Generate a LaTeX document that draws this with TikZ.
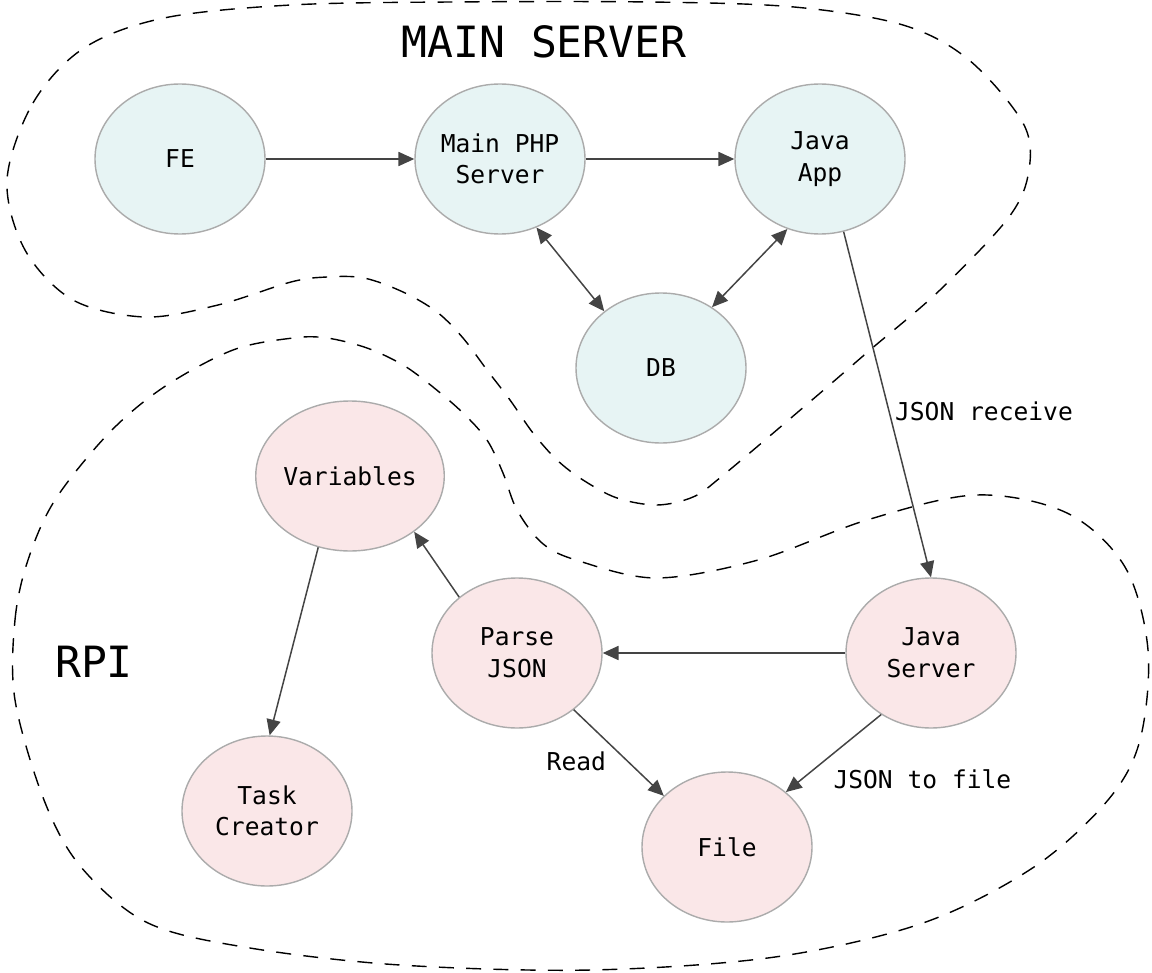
\documentclass[tikz,border=0pt]{standalone}
\usepackage{fontspec}
\setmainfont{DejaVu Sans Mono}
\usetikzlibrary{positioning,arrows.meta,shapes.geometric}

\definecolor{srvfill}{HTML}{E7F4F4}
\definecolor{rpifill}{HTML}{FAE7E8}
\definecolor{nodeline}{HTML}{ABABAB}
\definecolor{arrowgray}{HTML}{444444}

\tikzset{
    proc/.style={ellipse, draw=nodeline, line width=0.8pt, minimum width=3.4cm,
        minimum height=3cm, inner sep=0pt, align=center,
        font=\fontsize{14}{18}\selectfont},
    srv/.style={proc, fill=srvfill},
    rpi/.style={proc, fill=rpifill},
    tip/.tip={Triangle[length=9pt, width=8pt]},
    flow/.style={draw=arrowgray, line width=0.85pt, -tip},
    both/.style={draw=arrowgray, line width=0.85pt, tip-tip},
    zone/.style={dash pattern=on 8.5pt off 7pt, line width=0.8pt},
    lbl/.style={font=\fontsize{14}{17}\selectfont, inner sep=2pt},
    title/.style={font=\fontsize{24.5}{28}\selectfont}
}

\begin{document}
\begin{tikzpicture}[node distance=6.4cm, on grid]
    \useasboundingbox (0,0) rectangle (23.04,-19.46);

    % server side
    \node[srv] (fe) at (3.6,-3.18) {FE};
    \node[srv] (php) [right=of fe] {Main PHP\\Server};
    \node[srv] (japp) [right=of php] {Java\\App};
    \node[srv] (db) at (13.22,-7.36) {DB};

    % raspberry side
    \node[rpi] (vars) at (7.0,-9.52) {Variables};
    \node[rpi] (pjson) at (10.34,-13.06) {Parse\\JSON};
    \node[rpi] (jsrv) at (18.62,-13.06) {Java\\Server};
    \node[rpi] (task) at (5.34,-16.22) {Task\\Creator};
    \node[rpi] (file) at (14.54,-16.94) {File};

    \node[title] (mainlbl) at (10.88,-0.84) {MAIN SERVER};
    \node[title] (rpilbl) at (1.88,-13.24) {RPI};

    % dashed zones
    \draw[zone] plot[smooth cycle, tension=0.55] coordinates {
        (0.14,-3.6) (0.66,-2.06) (1.68,-0.96) (3.28,-0.36) (5.82,-0.1)
        (9,-0.04) (13,-0.04) (15.88,-0.14) (18.06,-0.5) (19.38,-1.2)
        (20.46,-2.46) (20.58,-3.4) (20.18,-4.34) (18.8,-5.8) (17.4,-7.0)
        (16.24,-8.0) (14.42,-9.54) (13.86,-9.94) (13.14,-10.1) (12.34,-9.96)
        (11.66,-9.6) (11.14,-9.2) (10.66,-8.66) (10.2,-8.0) (9.74,-7.4)
        (9.26,-6.76) (8.74,-6.24) (8.06,-5.84) (7.28,-5.56) (6.54,-5.54)
        (5.82,-5.64) (4.36,-6.1) (2.9,-6.34) (1.46,-6.0) (0.5,-5.0)};
    \draw[zone] plot[smooth cycle, tension=0.55] coordinates {
        (0.3,-14.0) (0.3,-12.4) (0.56,-11.2) (1.1,-10.0) (2.18,-8.66)
        (3.28,-7.74) (4.66,-7.0) (5.86,-6.76) (6.54,-6.76) (7.34,-6.96)
        (8.06,-7.3) (8.66,-7.74) (9.26,-8.26) (9.74,-8.8) (10.06,-9.46)
        (10.34,-10.2) (10.84,-10.86) (11.52,-11.2) (13.12,-11.56) (15.16,-11.2)
        (17.34,-10.4) (19.52,-9.9) (21.34,-10.26) (22.5,-11.34) (22.96,-13.0)
        (22.8,-14.8) (22.16,-16.0) (20.68,-17.34) (18.46,-18.46) (15.5,-19.14)
        (11.82,-19.4) (8.0,-19.3) (5.0,-18.96) (2.96,-18.46) (1.62,-17.34)
        (0.88,-16.0)};

    % connectors
    \draw[flow] (fe) -- (php);
    \draw[flow] (php) -- (japp);
    \draw[both] (php.-62) -- (db.135);
    \draw[both] (japp.-115) -- (db.50);
    \draw[flow] (japp.-72) -- node[lbl, pos=0.52, right=1pt] {JSON receive} (jsrv.north);
    \draw[flow] (jsrv) -- (pjson);
    \draw[flow] (pjson.136) -- (vars.-41);
    \draw[flow] (vars.-114) -- (task.88);
    \draw[flow] (pjson.-45) -- node[lbl, pos=0.6, left=10pt] {Read} (file.141);
    \draw[flow] (jsrv.-129) -- node[lbl, pos=0.84, right=16pt] {JSON to file} (file.43);
\end{tikzpicture}
\end{document}
